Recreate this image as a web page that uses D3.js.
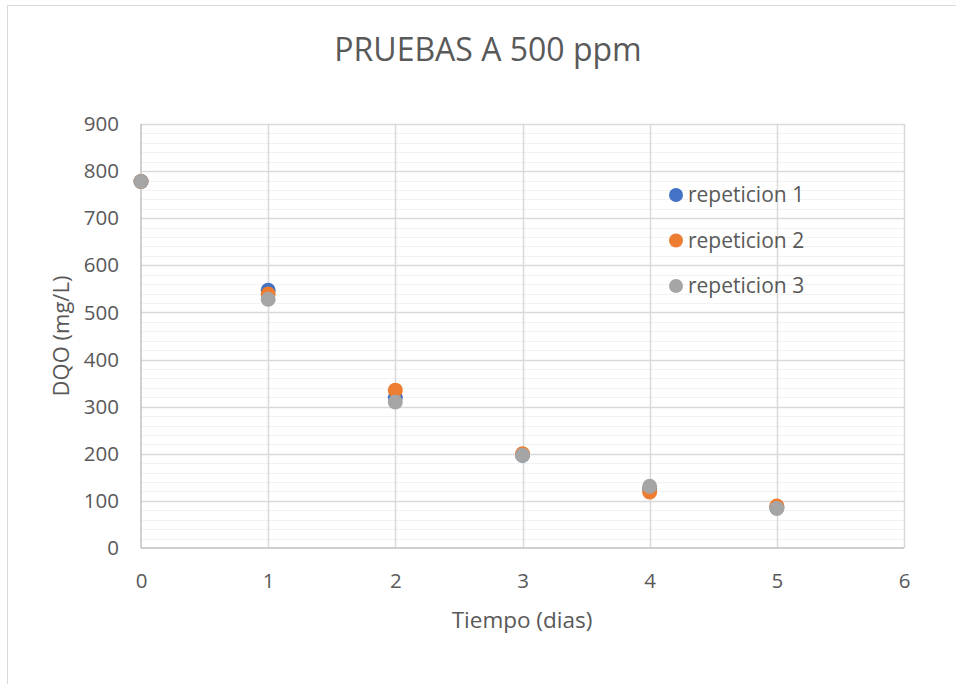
<!DOCTYPE html>
<html><head><meta charset="utf-8">
<script src="https://cdn.jsdelivr.net/npm/d3@7/dist/d3.min.js"></script>
<style>body{margin:0;background:#fff}svg{display:block}text{font-family:"Open Sans","Noto Sans",sans-serif;fill:#595959}</style>
</head><body><svg id="c" width="956" height="684"></svg>
<script>
const days = [0, 1, 2, 3, 4, 5];
const rep1 = [778, 547, 320, 197, 125, 86];
const rep2 = [778, 539, 335, 200, 119, 89];
const rep3 = [778, 528, 310, 197, 131, 84];
const seriesNames = ["repeticion 1", "repeticion 2", "repeticion 3"];
const colors = ["#4472C4", "#ED7D31", "#A5A5A5"];
const xTicks = [0, 1, 2, 3, 4, 5, 6];
const yTicks = [0, 100, 200, 300, 400, 500, 600, 700, 800, 900];

const svg = d3.select("#c");
svg.append("rect").attr("x", 7.5).attr("y", 5.5).attr("width", 960).attr("height", 700)
  .attr("fill", "none").attr("stroke", "#d9d9d9");

const x = d3.scaleLinear().domain([0, 6]).range([141, 904]);
const y = d3.scaleLinear().domain([0, 900]).range([548, 124]);

// minor grid
const minor = d3.range(0, 901, 20).filter(v => v % 100 !== 0);
svg.append("g").selectAll("line").data(minor).join("line")
  .attr("x1", x(0)).attr("x2", x(6)).attr("y1", d => Math.round(y(d)) + 0.5).attr("y2", d => Math.round(y(d)) + 0.5)
  .attr("stroke", "#f2f2f2").attr("stroke-width", 1);
// major grid
svg.append("g").selectAll("line").data(yTicks.slice(1)).join("line")
  .attr("x1", x(0)).attr("x2", x(6)).attr("y1", d => Math.round(y(d)) + 0.5).attr("y2", d => Math.round(y(d)) + 0.5)
  .attr("stroke", "#d9d9d9").attr("stroke-width", 1.5);
svg.append("g").selectAll("line").data(xTicks.slice(1)).join("line")
  .attr("y1", y(0)).attr("y2", y(900)).attr("x1", d => Math.round(x(d)) + 0.5).attr("x2", d => Math.round(x(d)) + 0.5)
  .attr("stroke", "#d9d9d9").attr("stroke-width", 1.5);
// axes lines
svg.append("line").attr("x1", x(0)).attr("x2", x(6)).attr("y1", y(0)).attr("y2", y(0)).attr("stroke", "#bfbfbf").attr("stroke-width", 1.5);
svg.append("line").attr("x1", x(0)).attr("x2", x(0)).attr("y1", y(0)).attr("y2", y(900)).attr("stroke", "#bfbfbf").attr("stroke-width", 1.5);

// axis labels via d3 axes
const xAxis = svg.append("g").attr("transform", `translate(0,${y(0)})`)
  .call(d3.axisBottom(x).tickValues(xTicks).tickSize(0).tickPadding(25).tickFormat(d3.format("d")));
const yAxis = svg.append("g").attr("transform", `translate(${x(0)},0)`)
  .call(d3.axisLeft(y).tickValues(yTicks).tickSize(0).tickPadding(22).tickFormat(d3.format("d")));
[xAxis, yAxis].forEach(a => {
  a.select(".domain").remove();
  a.selectAll("text").style("font-size", "20.5px").attr("fill", "#595959")
    .style("font-family", '"Open Sans","Noto Sans",sans-serif');
});

// points
const all = [rep1, rep2, rep3];
all.forEach((vals, i) => {
  svg.append("g").selectAll("circle").data(vals.map((v, j) => [days[j], v])).join("circle")
    .attr("cx", d => x(d[0])).attr("cy", d => y(d[1])).attr("r", 7.5).attr("fill", colors[i]);
});

// legend
seriesNames.forEach((n, i) => {
  const ly = 195 + i * 45.5;
  svg.append("circle").attr("cx", 676).attr("cy", ly).attr("r", 7).attr("fill", colors[i]);
  svg.append("text").attr("x", 688).attr("y", ly).attr("dy", "0.35em").style("font-size", "21px").text(n);
});

// titles
svg.append("text").attr("x", 488).attr("y", 61).attr("text-anchor", "middle").style("font-size", "32px").text("PRUEBAS A 500 ppm");
svg.append("text").attr("x", 522).attr("y", 628).attr("text-anchor", "middle").style("font-size", "22.5px").text("Tiempo (dias)");
svg.append("text").attr("transform", "translate(69,336) rotate(-90)").attr("text-anchor", "middle").style("font-size", "22px").text("DQO (mg/L)");
</script></body></html>
